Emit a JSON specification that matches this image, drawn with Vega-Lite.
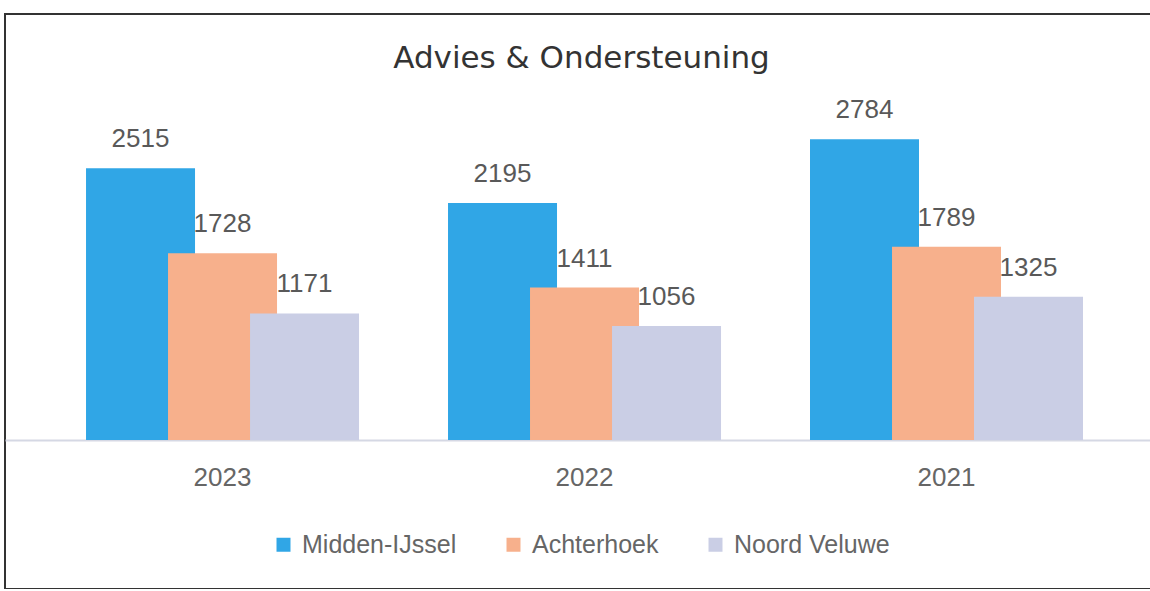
{
  "$schema": "https://vega.github.io/schema/vega-lite/v6.json",
  "width": 1147,
  "height": 575,
  "autosize": {"type": "none"},
  "padding": {"left": 5, "top": 14, "right": 0, "bottom": 0},
  "background": "white",
  "title": {
    "text": "Advies & Ondersteuning",
    "font": "DejaVu Sans",
    "fontSize": 31,
    "fontWeight": "normal",
    "color": "#333333",
    "anchor": "middle",
    "baseline": "alphabetic",
    "offset": -85,
    "dx": 3
  },
  "data": {
    "values": [
      {"year": "2023", "series": "Midden-IJssel", "value": 2515},
      {"year": "2023", "series": "Achterhoek", "value": 1728},
      {"year": "2023", "series": "Noord Veluwe", "value": 1171},
      {"year": "2022", "series": "Midden-IJssel", "value": 2195},
      {"year": "2022", "series": "Achterhoek", "value": 1411},
      {"year": "2022", "series": "Noord Veluwe", "value": 1056},
      {"year": "2021", "series": "Midden-IJssel", "value": 2784},
      {"year": "2021", "series": "Achterhoek", "value": 1789},
      {"year": "2021", "series": "Noord Veluwe", "value": 1325}
    ]
  },
  "encoding": {
    "x": {
      "field": "year",
      "type": "nominal",
      "sort": ["2023", "2022", "2021"],
      "scale": {"paddingInner": 0.3204, "paddingOuter": 0.2445, "align": 0.534},
      "axis": {
        "title": null,
        "orient": "bottom",
        "offset": -149,
        "ticks": false,
        "grid": false,
        "domainColor": "#d5d8e4",
        "domainWidth": 2,
        "labelFont": "Liberation Sans",
        "labelFontSize": 26,
        "labelColor": "#666666",
        "labelPadding": 24,
        "labelAngle": 0,
        "labelBaseline": "top"
      }
    },
    "xOffset": {
      "field": "series",
      "type": "nominal",
      "sort": ["Midden-IJssel", "Achterhoek", "Noord Veluwe"],
      "scale": {"paddingInner": 0, "paddingOuter": 0}
    },
    "y": {
      "field": "value",
      "type": "quantitative",
      "scale": {"domain": [-1380, 3944], "nice": false},
      "axis": null
    }
  },
  "layer": [
    {
      "mark": {"type": "bar", "width": 109},
      "encoding": {
        "color": {
          "field": "series",
          "type": "nominal",
          "sort": ["Midden-IJssel", "Achterhoek", "Noord Veluwe"],
          "scale": {
            "domain": ["Midden-IJssel", "Achterhoek", "Noord Veluwe"],
            "range": ["#30a6e6", "#f7b08c", "#cacee5"]
          },
          "legend": {
            "orient": "none",
            "legendX": 266,
            "legendY": 518,
            "direction": "horizontal",
            "title": null,
            "symbolType": "square",
            "symbolSize": 196,
            "symbolStrokeWidth": 0,
            "symbolOpacity": 1,
            "labelFont": "Liberation Sans",
            "labelFontSize": 25,
            "labelColor": "#666666",
            "labelOffset": 6,
            "columnPadding": 44,
            "padding": 0
          }
        },
        "opacity": {
          "field": "series",
          "type": "nominal",
          "scale": {
            "domain": ["Midden-IJssel", "Achterhoek", "Noord Veluwe"],
            "range": [1, 1, 0.8]
          },
          "legend": null
        }
      }
    },
    {
      "mark": {
        "type": "text",
        "baseline": "alphabetic",
        "dy": -21,
        "font": "Liberation Sans",
        "fontSize": 26,
        "color": "#595959"
      },
      "encoding": {
        "text": {"field": "value", "type": "quantitative"}
      }
    }
  ],
  "config": {
    "view": {"stroke": "#333333", "strokeWidth": 2}
  }
}
